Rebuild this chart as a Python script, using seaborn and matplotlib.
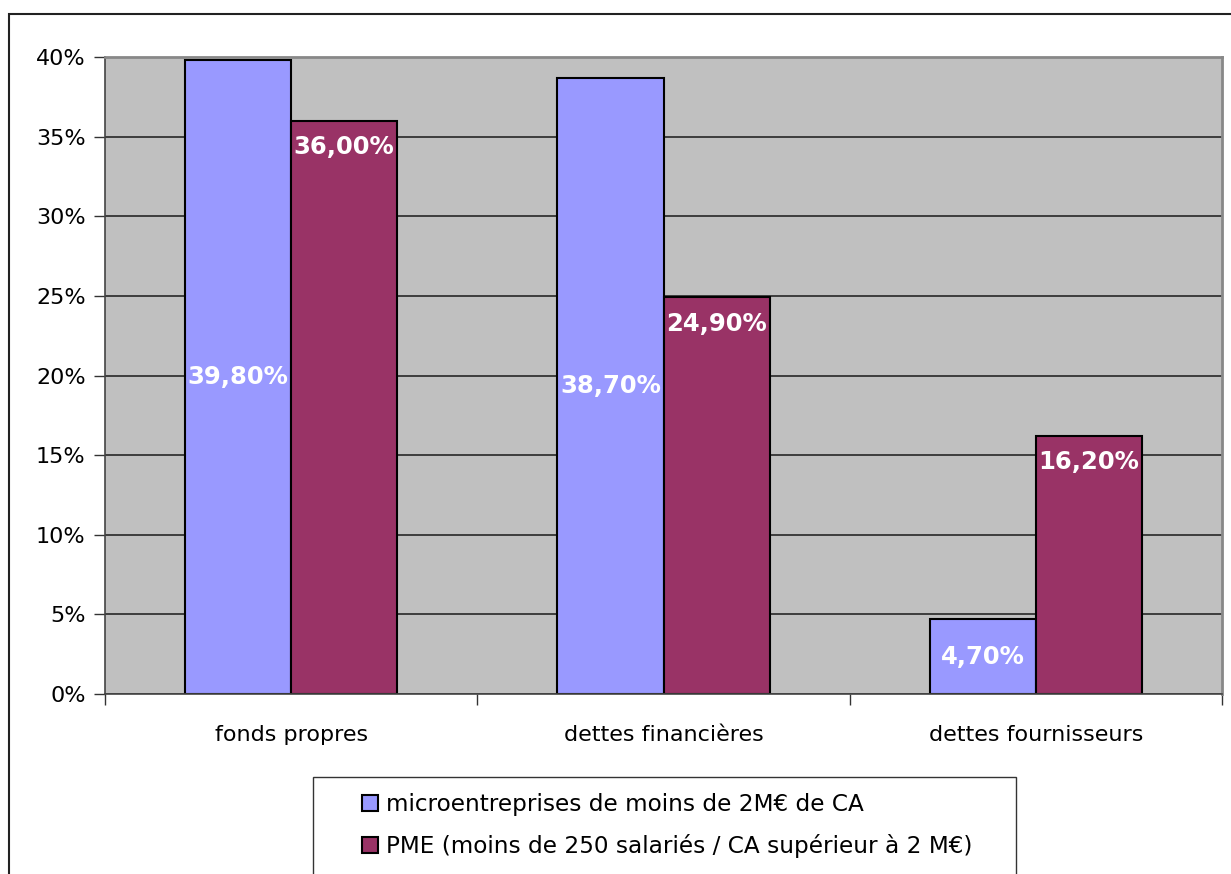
import seaborn as sns
import pandas as pd
import matplotlib.pyplot as plt
from matplotlib.patches import Rectangle
from matplotlib.lines import Line2D
from matplotlib.ticker import FuncFormatter, FixedLocator

# données
categories = ["fonds propres", "dettes financières", "dettes fournisseurs"]
series_names = ["microentreprises de moins de 2M€ de CA",
                "PME (moins de 250 salariés / CA supérieur à 2 M€)"]
micro_vals = [0.398, 0.387, 0.047]
pme_vals = [0.360, 0.249, 0.162]

colors = ["#9999FF", "#993366"]

df = pd.DataFrame({
    "cat": categories * 2,
    "serie": [series_names[0]] * 3 + [series_names[1]] * 3,
    "val": micro_vals + pme_vals,
})

sns.set_style("white")
plt.rcParams['font.family'] = ['DejaVu Sans']
plt.rcParams['text.color'] = 'black'
plt.rcParams['xtick.color'] = 'black'
plt.rcParams['ytick.color'] = 'black'
plt.rcParams['xtick.labelcolor'] = 'black'
plt.rcParams['ytick.labelcolor'] = 'black'

fig = plt.figure(figsize=(12.31, 8.74), dpi=100)
ax = fig.add_axes([105/1231, 1-694/874, 1117/1231, 637/874])
ax.set_facecolor("#C0C0C0")

sns.barplot(data=df, x="cat", y="val", hue="serie", palette=colors,
            width=0.57, edgecolor="black", linewidth=1.5, ax=ax,
            saturation=1, legend=False)

ax.set_ylim(0, 0.40)
ax.set_xlim(-0.5, 2.5)
ax.set_yticks([i * 0.05 for i in range(9)])
ax.yaxis.set_major_formatter(FuncFormatter(lambda v, p: f"{v*100:.0f}%"))
ax.grid(axis="y", color="#333333", linewidth=1.3)
ax.set_axisbelow(True)
ax.set_xlabel("")
ax.set_ylabel("")
ax.tick_params(axis="y", labelsize=16, length=8, width=1, color="#333333", pad=6, left=True)
ax.tick_params(axis="x", which="major", labelsize=16, length=0, pad=22)
ax.xaxis.set_minor_locator(FixedLocator([-0.5, 0.5, 1.5, 2.5]))
ax.tick_params(axis="x", which="minor", length=8, width=1, color="#333333", bottom=True)

for s in ["top", "right"]:
    ax.spines[s].set_color("#888888")
    ax.spines[s].set_linewidth(2)
ax.spines["left"].set_color("#444444")
ax.spines["bottom"].set_color("#444444")
ax.spines["left"].set_linewidth(1.2)
ax.spines["bottom"].set_linewidth(1.2)

def fmt(v):
    return f"{v*100:.2f}".replace(".", ",") + "%"

# étiquettes: micro au centre, PME sous le haut
for i, cont in enumerate(ax.containers):
    for bar in cont:
        h = bar.get_height()
        xc = bar.get_x() + bar.get_width() / 2
        if i == 0:
            ax.text(xc, h / 2, fmt(h), ha="center", va="center", color="white",
                    fontsize=17.5, fontweight="bold")
        else:
            ax.annotate(fmt(h), (xc, h), xytext=(0, -19), textcoords="offset points",
                        ha="center", va="center", color="white",
                        fontsize=17.5, fontweight="bold")

handles = [Line2D([], [], linestyle="none", marker="s", markersize=11,
                  markerfacecolor=c, markeredgecolor="black", markeredgewidth=1.5)
           for c in colors]
leg = fig.legend(handles, series_names, loc="upper left",
                 bbox_to_anchor=(313/1231, 1-778/874, 703/1231, 0.001),
                 mode="expand", fontsize=16.7, frameon=True,
                 fancybox=False, edgecolor="black", borderpad=0.7,
                 handlelength=3.5, handletextpad=-1.05,
                 labelspacing=0.78, borderaxespad=0)
leg.get_frame().set_linewidth(1)

fig.patches.append(Rectangle((9/1231, -0.1), 1.2, 1 - 14/874 + 0.1,
                             transform=fig.transFigure, fill=False,
                             edgecolor="#222222", linewidth=1.5))

fig.savefig("out.png", dpi=100)
